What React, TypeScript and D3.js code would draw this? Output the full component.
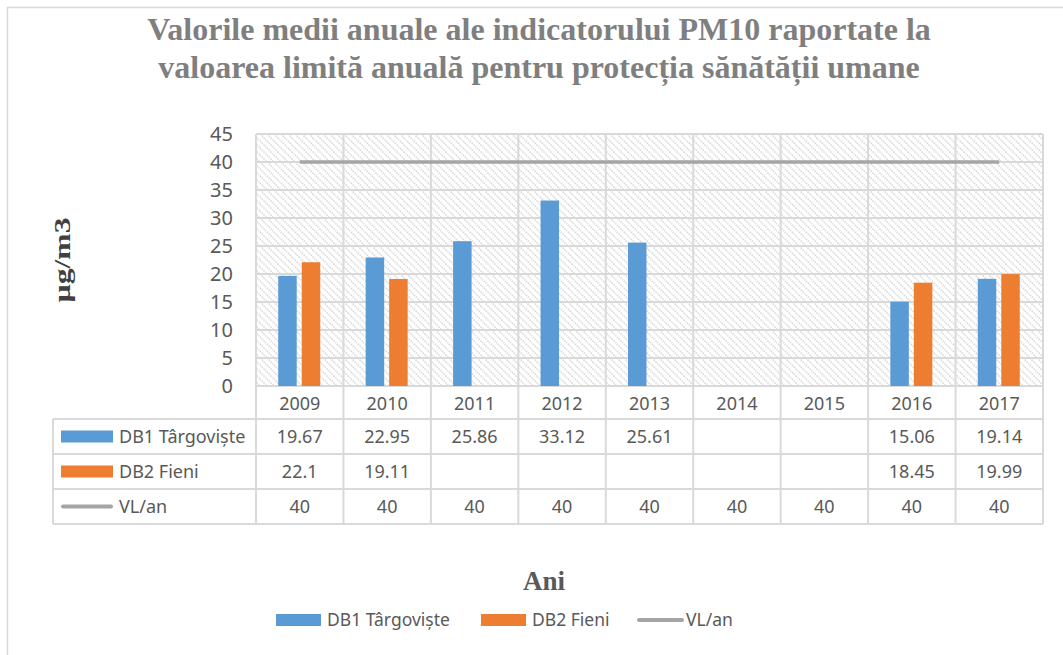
import React from 'react';
import * as d3 from 'd3';

// chart data
const years = ['2009', '2010', '2011', '2012', '2013', '2014', '2015', '2016', '2017'];
const db1Values: (number | null)[] = [19.67, 22.95, 25.86, 33.12, 25.61, null, null, 15.06, 19.14];
const db2Values: (number | null)[] = [22.1, 19.11, null, null, null, null, null, 18.45, 19.99];
const vlValues = [40, 40, 40, 40, 40, 40, 40, 40, 40];

const seriesNames = ['DB1 Târgoviște', 'DB2 Fieni', 'VL/an'];
const titleLines = [
  'Valorile medii anuale ale indicatorului PM10 raportate la',
  'valoarea limită anuală pentru protecția sănătății umane',
];

const W = 1063;
const H = 655;
const plot = { left: 256, right: 1043, top: 134, bottom: 386 };
const tableLeft = 53;
const rowH = 35;
const rowTops = [419, 454, 489];

const BLUE = '#5b9bd5';
const ORANGE = '#ed7d31';
const GRAY = '#a5a5a5';
const GRID = '#d9d9d9';
const TEXT = '#595959';
const SANS = '"Noto Sans", "Open Sans", sans-serif';
const SERIF = '"Liberation Serif", "DejaVu Serif", serif';

const fmt = (v: number | null) => (v == null ? '' : String(v));

export default function App() {
  const x = d3.scaleBand<string>().domain(years).range([plot.left, plot.right]);
  const bw = x.bandwidth();
  const sub = d3
    .scaleBand<string>()
    .domain(['db1', 'db2'])
    .range([bw / 2 - 21.5, bw / 2 + 20.5])
    .paddingInner(0.213);
  const y = d3.scaleLinear().domain([0, 45]).range([plot.bottom, plot.top]);
  const ticks = y.ticks(9);

  const vlLine = d3
    .line<number>()
    .x((_, i) => (x(years[i]) as number) + bw / 2)
    .y((d) => y(d));

  const bars = (vals: (number | null)[], key: string, color: string) =>
    vals.map((v, i) =>
      v == null ? null : (
        <rect
          key={key + i}
          x={(x(years[i]) as number) + (sub(key) as number)}
          y={y(v)}
          width={sub.bandwidth()}
          height={y(0) - y(v)}
          fill={color}
        />
      )
    );

  const rows = [db1Values, db2Values, vlValues];
  const keyFor = (i: number, kx: number, ky: number, w: number) =>
    i < 2 ? (
      <rect x={kx} y={ky - 6} width={w} height={12} fill={i === 0 ? BLUE : ORANGE} />
    ) : (
      <line x1={kx + 2} x2={kx + w - 2} y1={ky} y2={ky} stroke={GRAY} strokeWidth={4} strokeLinecap="round" />
    );

  return (
    <svg
      width={W}
      height={H}
      style={{ position: 'absolute', left: 0, top: 0, background: '#fff' }}
    >
      <defs>
        <pattern id="hatch" width="7" height="7" patternUnits="userSpaceOnUse">
          <rect width="7" height="7" fill="#fff" />
          <path d="M-1,-1 L8,8 M-1,6 L1,8 M6,-1 L8,1" stroke={GRID} strokeWidth={1.6} strokeDasharray="1.6 1" />
        </pattern>
      </defs>

      {/* outer frame */}
      <rect x={7.5} y={7.5} width={W + 20} height={H + 20} fill="none" stroke={GRID} strokeWidth={1.5} />

      {/* title */}
      {titleLines.map((t, i) => (
        <text key={t} x={539} y={40 + i * 38} textAnchor="middle" fontFamily={SERIF} fontWeight="bold" fontSize={32} fill="#7f7f7f">
          {t}
        </text>
      ))}

      {/* plot background */}
      <rect x={plot.left} y={plot.top} width={plot.right - plot.left} height={plot.bottom - plot.top} fill="url(#hatch)" />

      {/* horizontal grid + y ticks */}
      {ticks.map((t) => (
        <g key={t}>
          <line x1={plot.left} x2={plot.right} y1={y(t)} y2={y(t)} stroke={GRID} strokeWidth={2} />
          <text x={233} y={y(t)} dy="0.35em" textAnchor="end" fontFamily={SANS} fontSize={20} fill={TEXT}>
            {t}
          </text>
        </g>
      ))}

      {/* vertical grid through plot and table */}
      {years.map((yr) => (
        <line key={yr} x1={x(yr)} x2={x(yr)} y1={plot.top} y2={rowTops[2] + rowH} stroke={GRID} strokeWidth={2} />
      ))}
      <line x1={plot.right} x2={plot.right} y1={plot.top} y2={rowTops[2] + rowH} stroke={GRID} strokeWidth={2} />
      <line x1={tableLeft} x2={tableLeft} y1={rowTops[0]} y2={rowTops[2] + rowH} stroke={GRID} strokeWidth={2} />
      {[...rowTops, rowTops[2] + rowH].map((ry) => (
        <line key={ry} x1={tableLeft} x2={plot.right} y1={ry} y2={ry} stroke={GRID} strokeWidth={2} />
      ))}

      {/* bars */}
      {bars(db1Values, 'db1', BLUE)}
      {bars(db2Values, 'db2', ORANGE)}

      {/* limit line */}
      <path d={vlLine(vlValues) || ''} fill="none" stroke={GRAY} strokeWidth={3.5} />

      {/* data table header */}
      {years.map((yr) => (
        <text key={yr} x={(x(yr) as number) + bw / 2} y={(plot.bottom + rowTops[0]) / 2 + 1} dy="0.35em" textAnchor="middle" fontFamily={SANS} fontSize={18} fill={TEXT}>
          {yr}
        </text>
      ))}

      {/* data table rows */}
      {rows.map((vals, r) => {
        const cy = rowTops[r] + rowH / 2;
        return (
          <g key={r}>
            {keyFor(r, 61, cy, 52)}
            <text x={119} y={cy} dy="0.35em" fontFamily={SANS} fontSize={18} fill={TEXT}>
              {seriesNames[r]}
            </text>
            {vals.map((v, i) => (
              <text key={i} x={(x(years[i]) as number) + bw / 2} y={cy} dy="0.35em" textAnchor="middle" fontFamily={SANS} fontSize={18} fill={TEXT}>
                {fmt(v)}
              </text>
            ))}
          </g>
        );
      })}

      {/* axis titles */}
      <text transform="translate(70,260) rotate(-90)" textAnchor="middle" fontFamily={SERIF} fontWeight="bold" fontSize={23} fill="#404040" textLength={85} lengthAdjust="spacingAndGlyphs">
        µg/m3
      </text>
      <text x={544} y={590} textAnchor="middle" fontFamily={SERIF} fontWeight="bold" fontSize={27} fill={TEXT}>
        Ani
      </text>

      {/* legend */}
      {[276, 481, 637].map((lx, i) => (
        <g key={lx}>
          {keyFor(i, lx, 620, i < 2 ? 45 : 47)}
          <text x={lx + (i < 2 ? 51 : 49)} y={620} dy="0.35em" fontFamily={SANS} fontSize={17.5} fill={TEXT}>
            {seriesNames[i]}
          </text>
        </g>
      ))}
    </svg>
  );
}
